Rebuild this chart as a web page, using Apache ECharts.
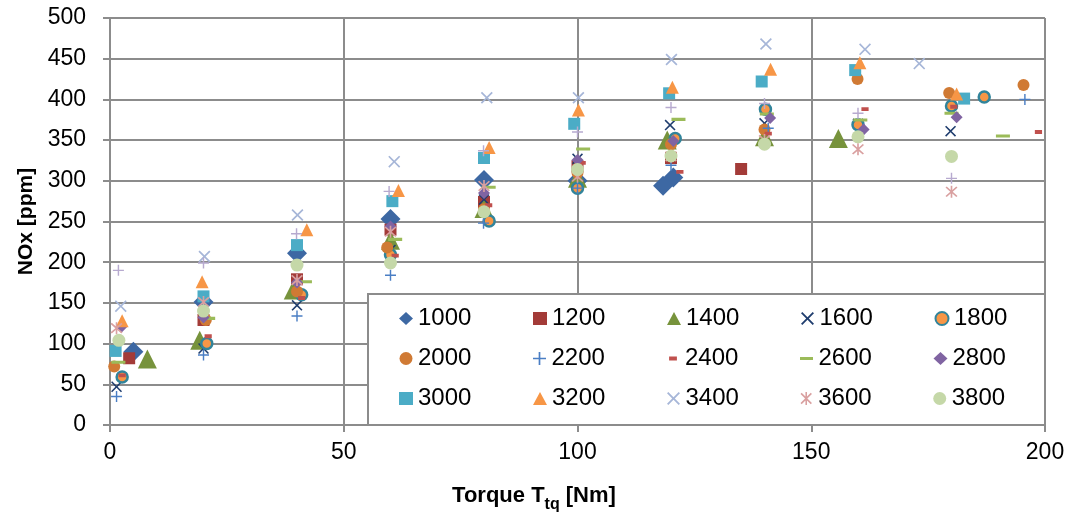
<!DOCTYPE html>
<html>
<head>
<meta charset="utf-8">
<script src="https://cdn.jsdelivr.net/npm/echarts@6/dist/echarts.min.js"></script>
<style>html,body{margin:0;padding:0;background:#fff;}#c{width:1072px;height:515px;}</style>
</head>
<body>
<div id="c"></div>
<script>
// ---- data ----
const seriesNames = ['1000','1200','1400','1600','1800','2000','2200','2400','2600','2800','3000','3200','3400','3600','3800','4000'];
const legendNames = ['1000','1200','1400','1600','1800','2000','2200','2400','2600','2800','3000','3200','3400','3600','3800'];
const xTicks = [0, 50, 100, 150, 200];
const yTicks = [0, 50, 100, 150, 200, 250, 300, 350, 400, 450, 500];

const s1000 = [[5,90],[20,151],[40,211],[60,253],[80,301],[100,300],[118.3,294],[120.5,304]];
const s1200 = [[4.1,82],[20,129],[40,179],[60,240],[80,274],[100,318],[120,328],[135,314.5]];
const s1400 = [[8,81],[19.2,104],[39.2,166],[60,227],[80,266],[100,303],[119.2,350],[140,354],[155.8,352]];
const s1600 = [[1.4,47],[20,94],[40,147],[60,215],[80,277],[100,327],[119.8,368.5],[140,370.6],[160,370],[179.8,361]];
const s1800 = [[2.6,59],[20.7,100],[41,160],[60,209],[81.1,250.6],[100,291],[120.9,352],[140.2,388],[160,369],[180,392],[187,403]];
const s2000 = [[0.9,72],[20.5,129],[40,164],[59.3,218],[80,265],[100,310],[120,345],[140,363],[159.9,425],[179.5,408],[195.4,417.7]];
const s2200 = [[1.4,35],[20,86],[40,134],[60,184],[79.9,248],[100,291],[120,319],[140.8,364.5],[195.7,400]];
const s2400 = [[2.6,61],[21,109],[41,156],[61,208],[81,270],[101,322],[121.9,311],[140.8,358],[161.5,388],[180.5,391],[198.6,360]];
const s2600 = [[1.8,77],[21,131],[41.7,176],[61,228],[81,292],[101.2,339],[121.6,375.5],[140.5,382],[160.5,374.7],[180,383],[191,355]];
const s2800 = [[2.5,121],[20,132],[40,175],[60,244],[80,285],[100,325.5],[120.5,349],[141.2,377],[161.2,363],[181.1,378]];
const s3000 = [[1.2,91],[20,158],[40,221],[60.4,275],[80,328],[99.3,370],[119.6,407.5],[139.4,422],[159.4,436],[182.7,401]];
const s3200 = [[2.6,128],[19.7,176],[42.1,240],[61.7,288],[81.1,341],[100.2,387],[120.3,415],[141.3,437],[160.4,445],[181.1,406.6]];
const s3400 = [[2.3,146],[20.2,207],[40.1,258],[60.8,323.5],[80.6,402],[100.2,402],[120.1,449],[140.3,468],[161.5,461.5],[173.1,444]];
const s3600 = [[1.4,119],[20,151],[40,178],[60,237.5],[80,293.6],[100,305],[120,330],[140,350],[160,338.7],[180,286.6]];
const s3800 = [[1.9,104],[20,140],[40,196.5],[60,199],[80,262],[100,314],[120,330.5],[140,345],[160,354],[180,330]];
const s4000 = [[1.8,190],[20,199],[39.9,235],[59.7,287],[79.9,337],[100,360],[120,390],[140,395],[160,383],[180,303]];

const seriesData = [s1000,s1200,s1400,s1600,s1800,s2000,s2200,s2400,s2600,s2800,s3000,s3200,s3400,s3600,s3800,s4000];

// ---- styles ----
const X_PATH = 'path://M0,1 L1,0 L5,4 L9,0 L10,1 L6,5 L10,9 L9,10 L5,6 L1,10 L0,9 L4,5 Z';
const PLUS_PATH = 'path://M4.35,0 H5.65 V4.35 H10 V5.65 H5.65 V10 H4.35 V5.65 H0 V4.35 H4.35 Z';
const STAR_PATH = 'path://M0.6,1.5 L1.5,0.6 L5,4.1 L8.5,0.6 L9.4,1.5 L5.9,5 L9.4,8.5 L8.5,9.4 L5,5.9 L1.5,9.4 L0.6,8.5 L4.1,5 Z M4.4,0 H5.6 V10 H4.4 Z';
const DASH_SHORT = 'path://M0,0 H0.01 V0.01 H0 Z M2,3.4 H8 V6.6 H2 Z M9.99,9.99 H10 V10 H9.99 Z';
const DASH_LONG = 'path://M0,0 H0.01 V0.01 H0 Z M0,3.9 H10 V6.1 H0 Z M9.99,9.99 H10 V10 H9.99 Z';

const styles = [
  {symbol:'diamond', size:20, color:'#3D68A3'},
  {symbol:'rect', size:12, color:'#A33B38'},
  {symbol:'triangle', size:19, color:'#77933C'},
  {symbol:X_PATH, size:11, color:'#1F3D6E'},
  {symbol:'circle', size:11, color:'#F79646', border:'#31849B', bw:2.5},
  {symbol:'circle', size:12, color:'#D07A34'},
  {symbol:PLUS_PATH, size:11, color:'#4A7EC4'},
  {symbol:DASH_SHORT, size:12, color:'#C0504D'},
  {symbol:DASH_LONG, size:14, color:'#9BBB59'},
  {symbol:'diamond', size:12, color:'#8064A2'},
  {symbol:'rect', size:12, color:'#4BACC6'},
  {symbol:'triangle', size:13, color:'#F79646'},
  {symbol:X_PATH, size:12, color:'#A6B6D8'},
  {symbol:STAR_PATH, size:12, color:'#D9A0A0'},
  {symbol:'circle', size:13, color:'#C5D8A8'},
  {symbol:PLUS_PATH, size:11, color:'#B7AACF'}
];

const FONT = 'Liberation Sans';
const GRID_COLOR = '#8c8c8c';

const series = seriesNames.map((name, i) => {
  const st = styles[i];
  const itemStyle = {color: st.color, opacity: 1};
  if (st.border) { itemStyle.borderColor = st.border; itemStyle.borderWidth = st.bw; }
  return {
    name: name,
    type: 'scatter',
    data: seriesData[i],
    symbol: st.symbol,
    symbolSize: st.size,
    itemStyle: itemStyle,
    emphasis: {disabled: true},
    z: 2
  };
});

const chart = echarts.init(document.getElementById('c'), null, {renderer: 'canvas'});
chart.setOption({
  animation: false,
  backgroundColor: '#ffffff',
  grid: {left: 110, right: 27, top: 18, bottom: 90, containLabel: false, outerBoundsMode: 'none'},
  xAxis: {
    type: 'value',
    min: xTicks[0], max: xTicks[xTicks.length - 1], interval: 50,
    name: '{a|Torque T}{b|tq}{a| [Nm]}',
    nameLocation: 'middle',
    nameGap: 60,
    nameTextStyle: {
      padding: [0, 87, 0, 0],
      rich: {
        a: {fontFamily: FONT, fontSize: 22, fontWeight: 'bold', color: '#000', verticalAlign: 'bottom', padding: [0,0,6,0]},
        b: {fontFamily: FONT, fontSize: 16, fontWeight: 'bold', color: '#000', verticalAlign: 'bottom'}
      }
    },
    axisLine: {show: true, onZero: false, lineStyle: {color: GRID_COLOR, width: 2}},
    axisTick: {show: true, inside: false, length: 7, lineStyle: {color: GRID_COLOR, width: 2}},
    axisLabel: {fontFamily: FONT, fontSize: 23, color: '#000', margin: 16},
    splitLine: {show: true, lineStyle: {color: GRID_COLOR, width: 2}}
  },
  yAxis: {
    type: 'value',
    min: yTicks[0], max: yTicks[yTicks.length - 1], interval: 50,
    name: 'NOx [ppm]',
    nameLocation: 'middle',
    nameRotate: 90,
    nameGap: 71,
    nameTextStyle: {fontFamily: FONT, fontSize: 21, fontWeight: 'bold', color: '#000'},
    axisLine: {show: true, lineStyle: {color: GRID_COLOR, width: 2}},
    axisTick: {show: true, inside: false, length: 7, lineStyle: {color: GRID_COLOR, width: 2}},
    axisLabel: {fontFamily: FONT, fontSize: 23, color: '#000', margin: 24},
    splitLine: {show: true, lineStyle: {color: GRID_COLOR, width: 2}}
  },
  graphic: [{
    type: 'rect',
    z: 50,
    shape: {x: 368, y: 294, width: 677, height: 131},
    style: {fill: '#ffffff', stroke: GRID_COLOR, lineWidth: 2}
  }],
  legend: {
    data: legendNames,
    left: 399, top: 306, width: 670,
    orient: 'horizontal',
    padding: 0,
    itemWidth: 14, itemHeight: 13,
    itemGap: 15,
    z: 60,
    selectedMode: false,
    textStyle: {fontFamily: FONT, fontSize: 24, color: '#000', width: 100, lineHeight: 25, padding: [0,0,0,0]}
  },
  series: series
});
</script>
</body>
</html>
